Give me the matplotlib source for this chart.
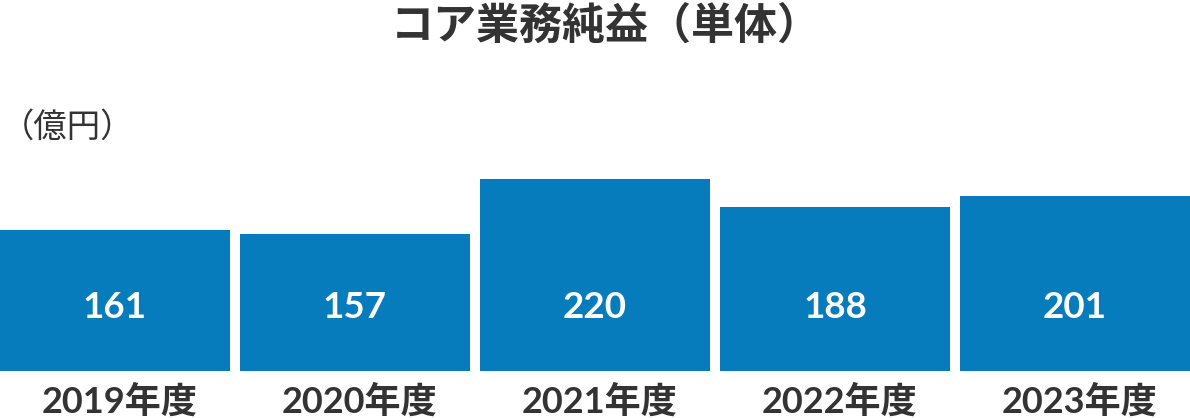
import matplotlib
matplotlib.use("Agg")
import matplotlib.pyplot as plt

categories = ["2019年度", "2020年度", "2021年度", "2022年度", "2023年度"]
values = [161, 157, 220, 188, 201]
title = "コア業務純益（単体）"
unit_label = "（億円）"

BAR = "#077cbd"
TXT = "#333333"
W, H = 1190, 418

fig = plt.figure(figsize=(W / 100, H / 100), dpi=100)
ax = fig.add_axes([0, 47 / H, 1, 192 / H])
x = list(range(len(values)))
ax.bar(x, values, width=230 / 240, color=BAR, linewidth=0)
ax.set_xlim(-115 / 240, len(values) - 1 + 115 / 240)
ax.set_ylim(0, 220)
ax.axis("off")

for i, v in enumerate(values):
    ax.annotate(str(v), xy=(i, 0), xytext=(0, 53 * 0.72), textcoords="offset points",
                ha="center", va="baseline", color="white", fontsize=26.5,
                fontweight="bold", family=["Lato", "Noto Sans CJK JP"])
    ax.annotate(categories[i], xy=(i, 0), xytext=(3, -42 * 0.72), textcoords="offset points",
                ha="center", va="baseline", color=TXT, fontsize=26,
                fontweight="bold", family=["Lato", "Noto Sans CJK JP"], annotation_clip=False)

fig.text(606 / W, 1 - 39 / H, title, ha="center", va="baseline", color=TXT,
         fontsize=31, fontweight="bold", family=["Noto Sans CJK JP", "DejaVu Sans"])
fig.text(1 / W, 1 - 137 / H, unit_label, ha="left", va="baseline", color=TXT,
         fontsize=24, family=["Noto Sans CJK JP", "DejaVu Sans"])

fig.savefig("out.png", dpi=100)
